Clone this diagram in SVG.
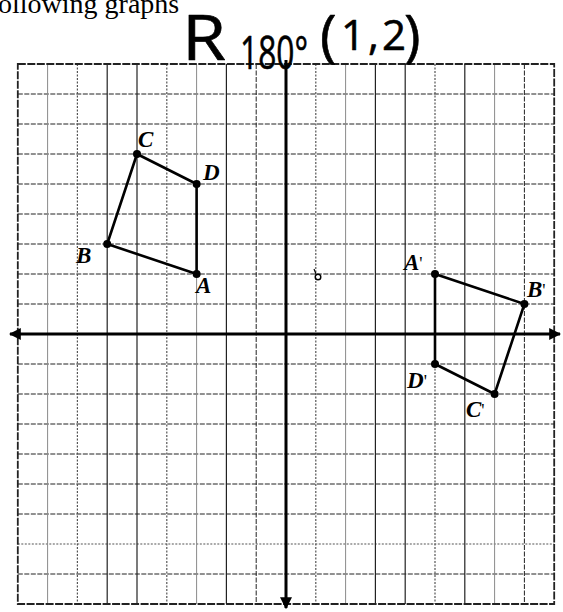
<svg xmlns="http://www.w3.org/2000/svg" width="563" height="612" viewBox="0 0 563 612">
<style>
.gs{stroke:#8a8a8a;stroke-width:1;fill:none}
.gd{stroke:#222;stroke-width:1;stroke-dasharray:5 1.5;fill:none}
.gp{stroke:#555;stroke-width:1.2;stroke-dasharray:2 1.5;fill:none}
.gk{stroke:#222;stroke-width:1.2;fill:none}
.bd{stroke:#222;stroke-width:1.8;stroke-dasharray:8 1.5;fill:none}
.ax{stroke:#000;stroke-width:3;fill:none}
.ed{stroke:#000;stroke-width:2.6;fill:none;stroke-linejoin:round}
.pt{fill:#000}
.lb{font-family:"Liberation Serif",serif;font-weight:bold;font-style:italic;font-size:23px;fill:#000}
.pr{font-style:normal;font-weight:normal;font-size:18px}
.hw{font-family:"Open Sans","DejaVu Sans",sans-serif;font-weight:400;fill:#000;stroke:#000;stroke-width:0.6;stroke-linejoin:round}
</style>
<defs>
<marker id="ah" viewBox="0 0 10 10" refX="9" refY="5" markerWidth="4" markerHeight="4" orient="auto-start-reverse" markerUnits="strokeWidth">
<path d="M0,0 L10,5 L0,10 Z" fill="#000"/>
</marker>
</defs>
<rect width="563" height="612" fill="#fff"/>
<text x="-2" y="13" font-family="Liberation Serif,serif" font-size="28" fill="#000">ollowing graphs</text>
<g id="grid">
<g id="grid-h">
<line class="gd" x1="17.8" y1="94" x2="554.2" y2="94"/>
<line class="gd" x1="17.8" y1="124" x2="554.2" y2="124"/>
<line class="gd" x1="17.8" y1="154" x2="554.2" y2="154"/>
<line class="gd" x1="17.8" y1="184" x2="554.2" y2="184"/>
<line class="gd" x1="17.8" y1="214" x2="554.2" y2="214"/>
<line class="gd" x1="17.8" y1="244" x2="554.2" y2="244"/>
<line class="gd" x1="17.8" y1="274" x2="554.2" y2="274"/>
<line class="gd" x1="17.8" y1="304" x2="554.2" y2="304"/>
<line class="gd" x1="17.8" y1="364" x2="554.2" y2="364"/>
<line class="gd" x1="17.8" y1="394" x2="554.2" y2="394"/>
<line class="gd" x1="17.8" y1="424" x2="554.2" y2="424"/>
<line class="gd" x1="17.8" y1="454" x2="554.2" y2="454"/>
<line class="gd" x1="17.8" y1="484" x2="554.2" y2="484"/>
<line class="gd" x1="17.8" y1="514" x2="554.2" y2="514"/>
<line class="gp" x1="17.8" y1="544" x2="554.2" y2="544"/>
<line class="gd" x1="17.8" y1="574" x2="554.2" y2="574"/>
</g>
<g id="grid-v">
<line class="gs" x1="47.6" y1="64" x2="47.6" y2="604"/>
<line class="gp" x1="77.4" y1="64" x2="77.4" y2="604"/>
<line class="gk" x1="107.2" y1="64" x2="107.2" y2="604"/>
<line class="gk" x1="137" y1="64" x2="137" y2="604"/>
<line class="gp" x1="166.8" y1="64" x2="166.8" y2="604"/>
<line class="gs" x1="196.6" y1="64" x2="196.6" y2="604"/>
<line class="gk" x1="226.4" y1="64" x2="226.4" y2="604"/>
<line class="gd" x1="256.2" y1="64" x2="256.2" y2="604"/>
<line class="gp" x1="315.8" y1="64" x2="315.8" y2="604"/>
<line class="gs" x1="345.6" y1="64" x2="345.6" y2="604"/>
<line class="gk" x1="375.4" y1="64" x2="375.4" y2="604"/>
<line class="gk" x1="405.2" y1="64" x2="405.2" y2="604"/>
<line class="gp" x1="435" y1="64" x2="435" y2="604"/>
<line class="gk" x1="464.8" y1="64" x2="464.8" y2="604"/>
<line class="gs" x1="494.6" y1="64" x2="494.6" y2="604"/>
<line class="gd" x1="524.4" y1="64" x2="524.4" y2="604"/>
</g>
<rect class="bd" x="17.8" y="64" width="536.4" height="540"/>
</g>
<g id="connectors">
<line id="x-axis" class="ax" x1="10" y1="334" x2="560" y2="334" marker-start="url(#ah)" marker-end="url(#ah)"/>
<line id="y-axis" class="ax" x1="286" y1="60" x2="286" y2="608" marker-end="url(#ah)"/>
<polygon id="quad-ABCD" class="ed" points="196.6,274 107.2,244 137,154 196.6,184"/>
<polygon id="quad-ABCD-prime" class="ed" points="435,274 524.4,304 494.6,394 435,364"/>
</g>
<g id="node-A"><circle class="pt" cx="196.6" cy="274" r="4"/><text class="lb" x="196" y="293">A</text></g>
<g id="node-B"><circle class="pt" cx="107.2" cy="244" r="4"/><text class="lb" x="76" y="263">B</text></g>
<g id="node-C"><circle class="pt" cx="137" cy="154" r="4"/><text class="lb" x="138" y="147">C</text></g>
<g id="node-D"><circle class="pt" cx="196.6" cy="184" r="4"/><text class="lb" x="203" y="180">D</text></g>
<g id="node-A1"><circle class="pt" cx="435" cy="274" r="4"/><text class="lb" x="404" y="270">A<tspan class="pr">'</tspan></text></g>
<g id="node-B1"><circle class="pt" cx="524.4" cy="304" r="4"/><text class="lb" x="527" y="297">B<tspan class="pr">'</tspan></text></g>
<g id="node-C1"><circle class="pt" cx="494.6" cy="394" r="4"/><text class="lb" x="466" y="417">C<tspan class="pr">'</tspan></text></g>
<g id="node-D1"><circle class="pt" cx="435" cy="364" r="4"/><text class="lb" x="407" y="388">D<tspan class="pr">'</tspan></text></g>
<g id="center-mark">
<circle cx="318" cy="277" r="2.8" fill="none" stroke="#000" stroke-width="1.4"/>
<path d="M316,274 L314,269" stroke="#000" stroke-width="1.2" fill="none"/>
</g>
<g id="handwriting">
<text class="hw" x="182" y="60" font-size="62" textLength="44" lengthAdjust="spacingAndGlyphs">R</text>
<text class="hw" x="240" y="69" font-size="46" textLength="68" lengthAdjust="spacingAndGlyphs">180°</text>
<text class="hw" y="56" font-size="56"><tspan x="320">(</tspan><tspan x="341" y="50" font-size="42" letter-spacing="3">1,2</tspan><tspan x="404" y="56">)</tspan></text>
</g>
</svg>
